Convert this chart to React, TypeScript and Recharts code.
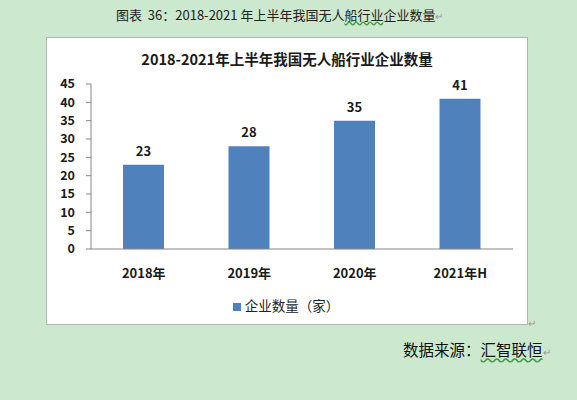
import React from "react";
import {
  BarChart,
  Bar,
  XAxis,
  YAxis,
  Legend,
  LabelList,
} from "recharts";

const categories = ["2018年", "2019年", "2020年", "2021年H"];
const companyCounts = [23, 28, 35, 41];
const yTicks = [0, 5, 10, 15, 20, 25, 30, 35, 40, 45];
const edgeTicks = [0, 1, 2, 3, 4];

const data = categories.map((name, i) => ({ name, value: companyCounts[i] }));

const FONT = "'Noto Sans CJK SC', 'Noto Sans', sans-serif";
const AXIS_GREY = "#868686";
const BAR_BLUE = "#4F81BD";

export default function App() {
  return (
    <div
      style={{
        position: "absolute",
        left: 0,
        top: 0,
        width: 577,
        height: 400,
        background: "#CCE8CF",
        fontFamily: FONT,
        overflow: "hidden",
      }}
    >
      {/* caption above the figure */}
      <div
        style={{
          position: "absolute",
          left: 116,
          top: 5,
          fontSize: 13,
          color: "#222",
          whiteSpace: "pre",
        }}
      >
        {"图表  36：2018-2021 年上半年我国无人"}
        <span style={{ textDecoration: "underline wavy #3c9a3c" }}>船行业</span>
        企业数量<span style={{ color: "#999", fontSize: 10 }}>↵</span>
      </div>

      {/* white chart box */}
      <div
        style={{
          position: "absolute",
          left: 46,
          top: 37,
          width: 480,
          height: 286,
          background: "#fff",
          border: "1px solid #b4b4b4",
        }}
      >
        <div
          style={{
            position: "absolute",
            left: 0,
            width: 480,
            top: 10,
            textAlign: "center",
            fontSize: 14.5,
            fontWeight: "bold",
            color: "#1a1a1a",
          }}
        >
          2018-2021年上半年我国无人船行业企业数量
        </div>
        <BarChart
          width={480}
          height={286}
          data={data}
          margin={{ top: 46, right: 14, left: 0, bottom: 45 }}
          barSize={41}
        >
          <XAxis
            xAxisId="edges"
            type="number"
            domain={[0, 4]}
            ticks={edgeTicks}
            height={0}
            axisLine={false}
            tick={false}
            tickSize={4}
            tickLine={{ stroke: AXIS_GREY }}
          />
          <XAxis
            dataKey="name"
            height={30}
            tickLine={false}
            tickMargin={14}
            axisLine={{ stroke: AXIS_GREY }}
            tick={{ fontSize: 13, fontWeight: "bold", fill: "#1a1a1a" }}
          />
          <YAxis
            width={44}
            domain={[0, 45]}
            ticks={yTicks}
            interval={0}
            tickSize={5}
            tickMargin={11}
            axisLine={{ stroke: AXIS_GREY }}
            tickLine={{ stroke: AXIS_GREY }}
            tick={{ fontSize: 12.5, fontWeight: "bold", fill: "#1a1a1a" }}
          />
          <Legend
            layout="horizontal"
            verticalAlign="middle"
            align="center"
            iconType="square"
            iconSize={8}
            wrapperStyle={{ top: 257, left: 11, fontSize: 13.5 }}
            formatter={(value) => <span style={{ color: "#222" }}>{value}</span>}
          />
          <Bar
            dataKey="value"
            name="企业数量（家）"
            fill={BAR_BLUE}
            isAnimationActive={false}
          >
            <LabelList
              dataKey="value"
              position="top"
              offset={9}
              style={{ fontSize: 13, fontWeight: "bold", fill: "#1a1a1a" }}
            />
          </Bar>
        </BarChart>
      </div>
      <div
        style={{
          position: "absolute",
          left: 528,
          top: 315,
          fontSize: 10,
          color: "#999",
        }}
      >
        ↵
      </div>

      {/* source note */}
      <div
        style={{
          position: "absolute",
          left: 403,
          top: 338,
          fontSize: 15.5,
          color: "#111",
          whiteSpace: "nowrap",
        }}
      >
        数据来源：
        <span style={{ textDecoration: "underline wavy #3c9a3c" }}>汇智联恒</span>
        <span style={{ color: "#999", fontSize: 10 }}>↵</span>
      </div>
    </div>
  );
}
